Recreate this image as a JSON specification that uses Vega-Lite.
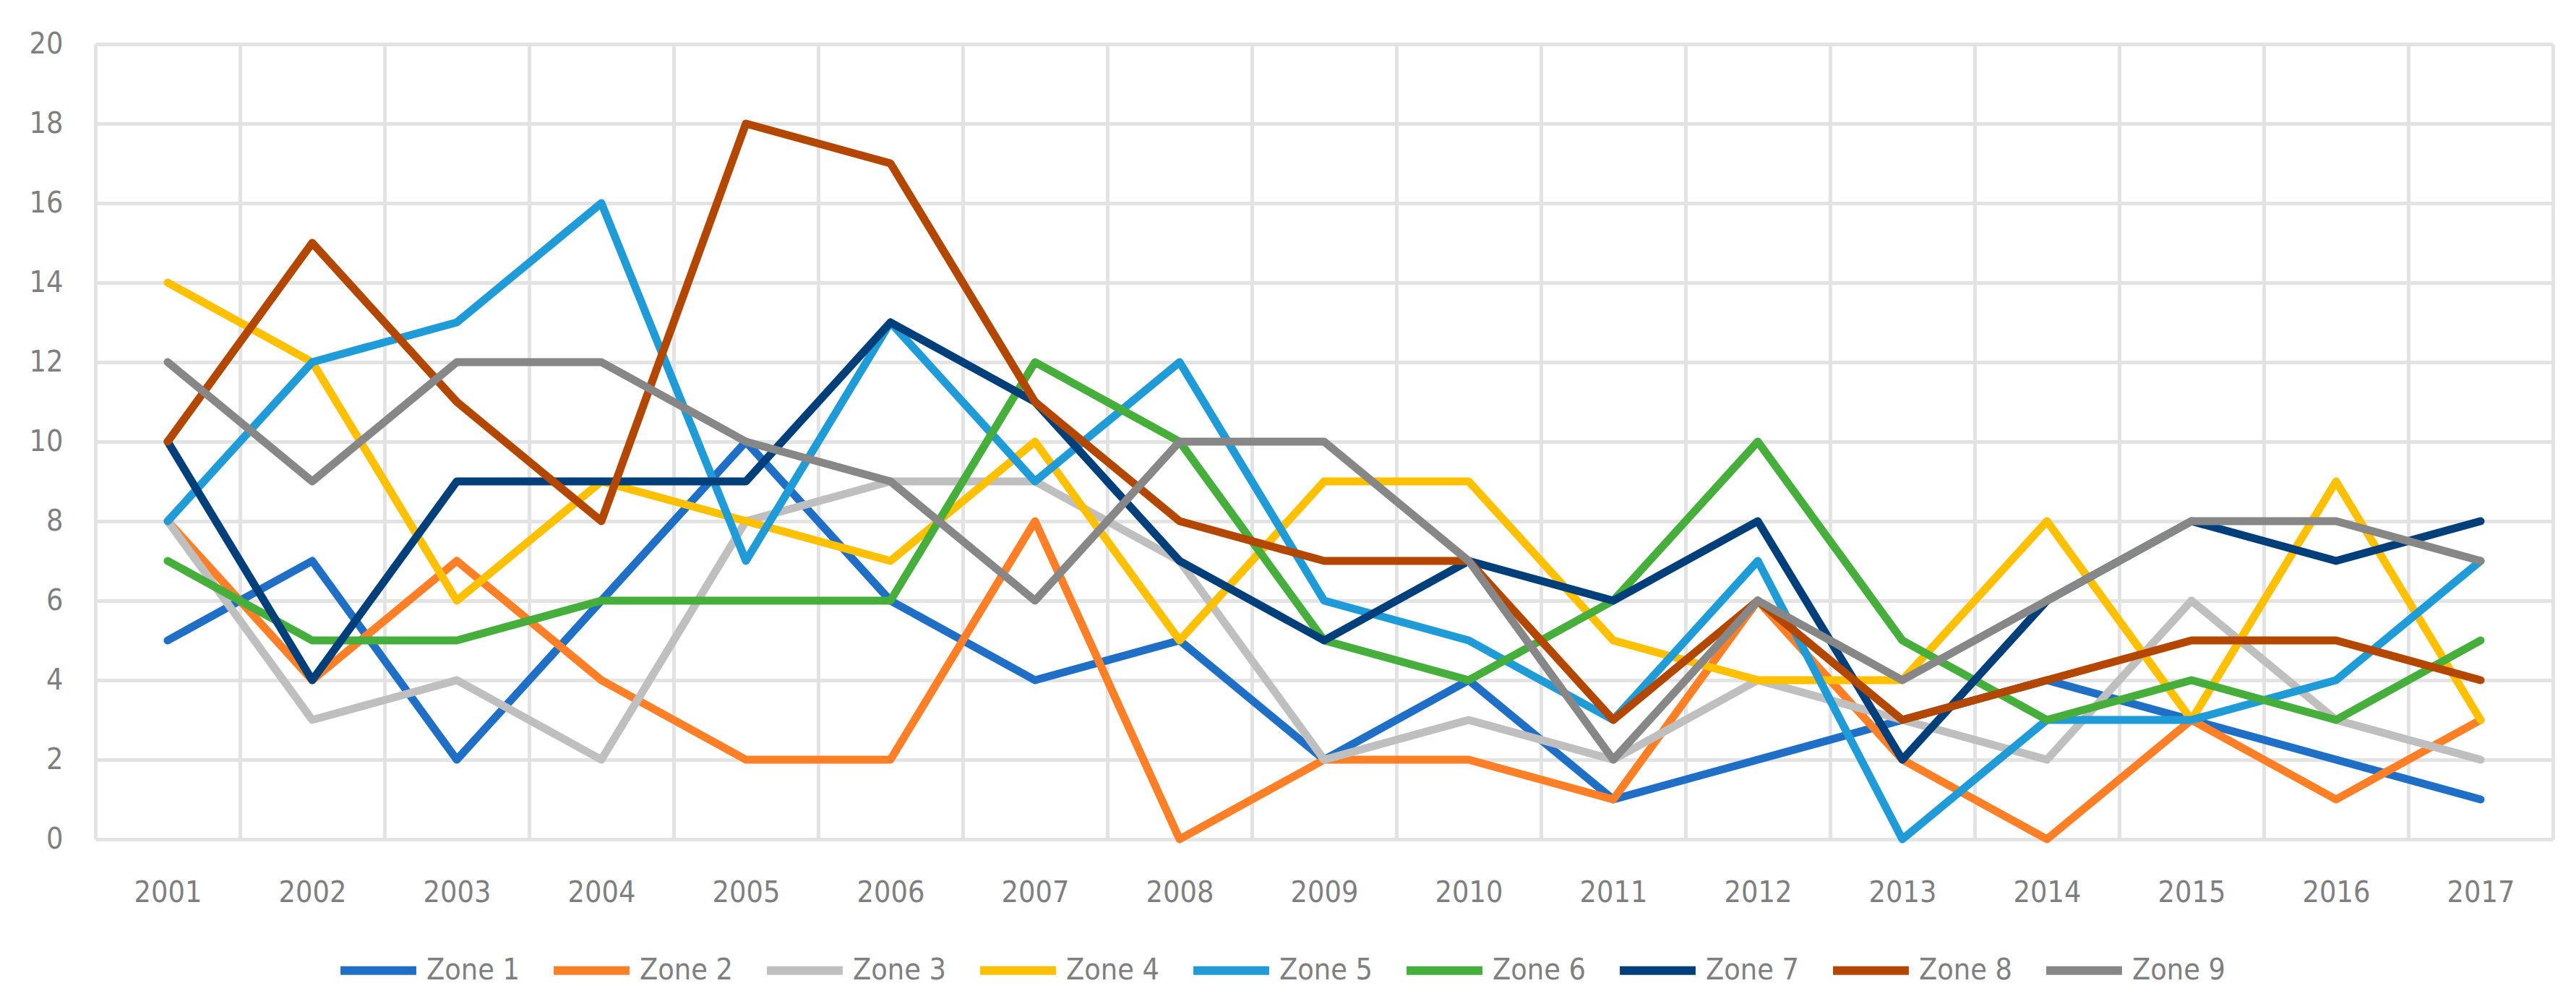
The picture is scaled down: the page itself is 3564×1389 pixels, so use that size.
{
  "$schema": "https://vega.github.io/schema/vega-lite/v6.json",
  "autosize": {"type": "none"},
  "width": 3400,
  "height": 1100,
  "padding": {"left": 132, "top": 61, "right": 32, "bottom": 228},
  "background": "white",
  "config": {
    "view": {"stroke": null},
    "font": "DejaVu Sans Condensed, Open Sans"
  },
  "data": {"values": [
    {"Year":"2001","Zone":"Zone 1","Value":5},{"Year":"2002","Zone":"Zone 1","Value":7},{"Year":"2003","Zone":"Zone 1","Value":2},{"Year":"2004","Zone":"Zone 1","Value":6},{"Year":"2005","Zone":"Zone 1","Value":10},{"Year":"2006","Zone":"Zone 1","Value":6},{"Year":"2007","Zone":"Zone 1","Value":4},{"Year":"2008","Zone":"Zone 1","Value":5},{"Year":"2009","Zone":"Zone 1","Value":2},{"Year":"2010","Zone":"Zone 1","Value":4},{"Year":"2011","Zone":"Zone 1","Value":1},{"Year":"2012","Zone":"Zone 1","Value":2},{"Year":"2013","Zone":"Zone 1","Value":3},{"Year":"2014","Zone":"Zone 1","Value":4},{"Year":"2015","Zone":"Zone 1","Value":3},{"Year":"2016","Zone":"Zone 1","Value":2},{"Year":"2017","Zone":"Zone 1","Value":1},
    {"Year":"2001","Zone":"Zone 2","Value":8},{"Year":"2002","Zone":"Zone 2","Value":4},{"Year":"2003","Zone":"Zone 2","Value":7},{"Year":"2004","Zone":"Zone 2","Value":4},{"Year":"2005","Zone":"Zone 2","Value":2},{"Year":"2006","Zone":"Zone 2","Value":2},{"Year":"2007","Zone":"Zone 2","Value":8},{"Year":"2008","Zone":"Zone 2","Value":0},{"Year":"2009","Zone":"Zone 2","Value":2},{"Year":"2010","Zone":"Zone 2","Value":2},{"Year":"2011","Zone":"Zone 2","Value":1},{"Year":"2012","Zone":"Zone 2","Value":6},{"Year":"2013","Zone":"Zone 2","Value":2},{"Year":"2014","Zone":"Zone 2","Value":0},{"Year":"2015","Zone":"Zone 2","Value":3},{"Year":"2016","Zone":"Zone 2","Value":1},{"Year":"2017","Zone":"Zone 2","Value":3},
    {"Year":"2001","Zone":"Zone 3","Value":8},{"Year":"2002","Zone":"Zone 3","Value":3},{"Year":"2003","Zone":"Zone 3","Value":4},{"Year":"2004","Zone":"Zone 3","Value":2},{"Year":"2005","Zone":"Zone 3","Value":8},{"Year":"2006","Zone":"Zone 3","Value":9},{"Year":"2007","Zone":"Zone 3","Value":9},{"Year":"2008","Zone":"Zone 3","Value":7},{"Year":"2009","Zone":"Zone 3","Value":2},{"Year":"2010","Zone":"Zone 3","Value":3},{"Year":"2011","Zone":"Zone 3","Value":2},{"Year":"2012","Zone":"Zone 3","Value":4},{"Year":"2013","Zone":"Zone 3","Value":3},{"Year":"2014","Zone":"Zone 3","Value":2},{"Year":"2015","Zone":"Zone 3","Value":6},{"Year":"2016","Zone":"Zone 3","Value":3},{"Year":"2017","Zone":"Zone 3","Value":2},
    {"Year":"2001","Zone":"Zone 4","Value":14},{"Year":"2002","Zone":"Zone 4","Value":12},{"Year":"2003","Zone":"Zone 4","Value":6},{"Year":"2004","Zone":"Zone 4","Value":9},{"Year":"2005","Zone":"Zone 4","Value":8},{"Year":"2006","Zone":"Zone 4","Value":7},{"Year":"2007","Zone":"Zone 4","Value":10},{"Year":"2008","Zone":"Zone 4","Value":5},{"Year":"2009","Zone":"Zone 4","Value":9},{"Year":"2010","Zone":"Zone 4","Value":9},{"Year":"2011","Zone":"Zone 4","Value":5},{"Year":"2012","Zone":"Zone 4","Value":4},{"Year":"2013","Zone":"Zone 4","Value":4},{"Year":"2014","Zone":"Zone 4","Value":8},{"Year":"2015","Zone":"Zone 4","Value":3},{"Year":"2016","Zone":"Zone 4","Value":9},{"Year":"2017","Zone":"Zone 4","Value":3},
    {"Year":"2001","Zone":"Zone 5","Value":8},{"Year":"2002","Zone":"Zone 5","Value":12},{"Year":"2003","Zone":"Zone 5","Value":13},{"Year":"2004","Zone":"Zone 5","Value":16},{"Year":"2005","Zone":"Zone 5","Value":7},{"Year":"2006","Zone":"Zone 5","Value":13},{"Year":"2007","Zone":"Zone 5","Value":9},{"Year":"2008","Zone":"Zone 5","Value":12},{"Year":"2009","Zone":"Zone 5","Value":6},{"Year":"2010","Zone":"Zone 5","Value":5},{"Year":"2011","Zone":"Zone 5","Value":3},{"Year":"2012","Zone":"Zone 5","Value":7},{"Year":"2013","Zone":"Zone 5","Value":0},{"Year":"2014","Zone":"Zone 5","Value":3},{"Year":"2015","Zone":"Zone 5","Value":3},{"Year":"2016","Zone":"Zone 5","Value":4},{"Year":"2017","Zone":"Zone 5","Value":7},
    {"Year":"2001","Zone":"Zone 6","Value":7},{"Year":"2002","Zone":"Zone 6","Value":5},{"Year":"2003","Zone":"Zone 6","Value":5},{"Year":"2004","Zone":"Zone 6","Value":6},{"Year":"2005","Zone":"Zone 6","Value":6},{"Year":"2006","Zone":"Zone 6","Value":6},{"Year":"2007","Zone":"Zone 6","Value":12},{"Year":"2008","Zone":"Zone 6","Value":10},{"Year":"2009","Zone":"Zone 6","Value":5},{"Year":"2010","Zone":"Zone 6","Value":4},{"Year":"2011","Zone":"Zone 6","Value":6},{"Year":"2012","Zone":"Zone 6","Value":10},{"Year":"2013","Zone":"Zone 6","Value":5},{"Year":"2014","Zone":"Zone 6","Value":3},{"Year":"2015","Zone":"Zone 6","Value":4},{"Year":"2016","Zone":"Zone 6","Value":3},{"Year":"2017","Zone":"Zone 6","Value":5},
    {"Year":"2001","Zone":"Zone 7","Value":10},{"Year":"2002","Zone":"Zone 7","Value":4},{"Year":"2003","Zone":"Zone 7","Value":9},{"Year":"2004","Zone":"Zone 7","Value":9},{"Year":"2005","Zone":"Zone 7","Value":9},{"Year":"2006","Zone":"Zone 7","Value":13},{"Year":"2007","Zone":"Zone 7","Value":11},{"Year":"2008","Zone":"Zone 7","Value":7},{"Year":"2009","Zone":"Zone 7","Value":5},{"Year":"2010","Zone":"Zone 7","Value":7},{"Year":"2011","Zone":"Zone 7","Value":6},{"Year":"2012","Zone":"Zone 7","Value":8},{"Year":"2013","Zone":"Zone 7","Value":2},{"Year":"2014","Zone":"Zone 7","Value":6},{"Year":"2015","Zone":"Zone 7","Value":8},{"Year":"2016","Zone":"Zone 7","Value":7},{"Year":"2017","Zone":"Zone 7","Value":8},
    {"Year":"2001","Zone":"Zone 8","Value":10},{"Year":"2002","Zone":"Zone 8","Value":15},{"Year":"2003","Zone":"Zone 8","Value":11},{"Year":"2004","Zone":"Zone 8","Value":8},{"Year":"2005","Zone":"Zone 8","Value":18},{"Year":"2006","Zone":"Zone 8","Value":17},{"Year":"2007","Zone":"Zone 8","Value":11},{"Year":"2008","Zone":"Zone 8","Value":8},{"Year":"2009","Zone":"Zone 8","Value":7},{"Year":"2010","Zone":"Zone 8","Value":7},{"Year":"2011","Zone":"Zone 8","Value":3},{"Year":"2012","Zone":"Zone 8","Value":6},{"Year":"2013","Zone":"Zone 8","Value":3},{"Year":"2014","Zone":"Zone 8","Value":4},{"Year":"2015","Zone":"Zone 8","Value":5},{"Year":"2016","Zone":"Zone 8","Value":5},{"Year":"2017","Zone":"Zone 8","Value":4},
    {"Year":"2001","Zone":"Zone 9","Value":12},{"Year":"2002","Zone":"Zone 9","Value":9},{"Year":"2003","Zone":"Zone 9","Value":12},{"Year":"2004","Zone":"Zone 9","Value":12},{"Year":"2005","Zone":"Zone 9","Value":10},{"Year":"2006","Zone":"Zone 9","Value":9},{"Year":"2007","Zone":"Zone 9","Value":6},{"Year":"2008","Zone":"Zone 9","Value":10},{"Year":"2009","Zone":"Zone 9","Value":10},{"Year":"2010","Zone":"Zone 9","Value":7},{"Year":"2011","Zone":"Zone 9","Value":2},{"Year":"2012","Zone":"Zone 9","Value":6},{"Year":"2013","Zone":"Zone 9","Value":4},{"Year":"2014","Zone":"Zone 9","Value":6},{"Year":"2015","Zone":"Zone 9","Value":8},{"Year":"2016","Zone":"Zone 9","Value":8},{"Year":"2017","Zone":"Zone 9","Value":7}
  ]},
  "mark": {"type": "line", "strokeWidth": 11, "strokeJoin": "round", "strokeCap": "round"},
  "encoding": {
    "x": {
      "field": "Year", "type": "ordinal", "bandPosition": 0.5,
      "scale": {"type": "band", "paddingInner": 0, "paddingOuter": 0},
      "axis": {
        "title": null, "domain": false, "ticks": false, "tickSize": 0, "tickBand": "extent",
        "grid": true, "gridColor": "#E3E3E3", "gridWidth": 5,
        "labelAngle": 0, "labelFontSize": 41, "labelColor": "#7F7F7F",
        "labelPadding": 54, "labelFlush": false, "labelBound": false, "labelOverlap": false,
        "labelAlign": "center"
      }
    },
    "y": {
      "field": "Value", "type": "quantitative",
      "scale": {"domain": [0, 20], "nice": false, "zero": true},
      "axis": {
        "title": null, "domain": false, "ticks": false, "tickSize": 0,
        "values": [0, 2, 4, 6, 8, 10, 12, 14, 16, 18, 20],
        "grid": true, "gridColor": "#E3E3E3", "gridWidth": 5,
        "labelFontSize": 41, "labelColor": "#7F7F7F", "labelPadding": 45,
        "labelFlush": false, "labelOverlap": false
      }
    },
    "color": {
      "field": "Zone", "type": "nominal",
      "scale": {
        "domain": ["Zone 1", "Zone 2", "Zone 3", "Zone 4", "Zone 5", "Zone 6", "Zone 7", "Zone 8", "Zone 9"],
        "range": ["#1F6FC6", "#FF7F27", "#BFBFBF", "#FFC000", "#1F9CD8", "#46AE3A", "#003F7A", "#B34700", "#878787"]
      },
      "legend": {
        "title": null, "orient": "none", "legendX": 333, "legendY": 1223,
        "direction": "horizontal", "columns": 9, "padding": 0,
        "symbolType": "stroke", "symbolSize": 11000, "symbolStrokeWidth": 12,
        "labelFontSize": 41, "labelColor": "#7F7F7F", "labelOffset": 8, "columnPadding": 22
      }
    }
  }
}
